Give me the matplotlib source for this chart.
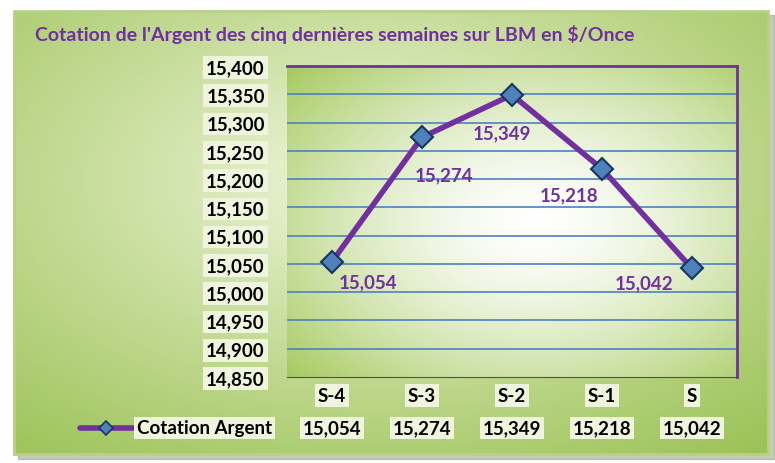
#!/usr/bin/env python3

# Silver price over the last five weeks, line chart with a data table row.

import matplotlib.pyplot as plt
import numpy as np

title = "Cotation de l'Argent des cinq dernières semaines sur LBM en $/Once"
weeks = ["S-4", "S-3", "S-2", "S-1", "S"]
prices = [15.054, 15.274, 15.349, 15.218, 15.042]
series_name = "Cotation Argent"
y_ticks = [14.85, 14.9, 14.95, 15.0, 15.05, 15.1, 15.15, 15.2, 15.25, 15.3, 15.35, 15.4]

PURPLE = "#7030a0"
FONT = ["Lato", "DejaVu Sans"]
W, H = 775, 464


def fmt(v):
    return f"{v:.3f}".replace(".", ",")


def radial(w, h, cx, cy, inner, outer, power=1.2):
    yy, xx = np.mgrid[0:h, 0:w]
    d = np.sqrt(((xx - cx) / w) ** 2 + ((yy - cy) / h) ** 2)
    d = np.clip(d / d.max(), 0, 1) ** power
    inner = np.array(inner) / 255
    outer = np.array(outer) / 255
    return inner + (outer - inner) * d[..., None]


fig = plt.figure(figsize=(W / 100, H / 100), dpi=100)

# background frame
bg = fig.add_axes([0, 0, 1, 1])
bg.set_xlim(0, W)
bg.set_ylim(H, 0)
bg.axis("off")
bg.add_patch(plt.Rectangle((18, 16), 756, 444, color="#8a9a70", alpha=0.5, zorder=0))
img = radial(200, 120, 95, 45, (244, 249, 228), (155, 194, 85), 0.9)
bg.imshow(img, extent=(14, 768, 455, 12), aspect="auto", zorder=1)
bg.add_patch(plt.Rectangle((14, 12), 754, 443, fill=False, ec="#b8d08a", lw=2, zorder=2))

bg.text(35, 35, title, color=PURPLE, fontsize=14, fontweight="bold",
        family=FONT, va="center", ha="left", zorder=3)

# plot area
x0, x1, ytop, ybot = 287, 737, 67, 378
ax = fig.add_axes([x0 / W, 1 - ybot / H, (x1 - x0) / W, (ybot - ytop) / H])
ax.set_zorder(2)
pimg = radial(200, 120, 110, 60, (255, 255, 255), (165, 202, 95), 1.5)
ax.imshow(pimg, extent=(-0.5, 4.5, 14.85, 15.4), aspect="auto", zorder=0)
ax.set_xlim(-0.5, 4.5)
ax.set_ylim(14.85, 15.4)

for t in y_ticks[1:-1]:
    ax.axhline(t, color="#4f81bd", lw=1.2, zorder=1)

x = np.arange(len(weeks))
ax.plot(x, prices, color=PURPLE, lw=4, zorder=3, solid_capstyle="round")
ax.plot(x, prices, ls="none", marker="D", ms=11, mfc="#4f81bd", mec="#17375e",
        mew=1.5, zorder=4)

offsets = [(36, -20), (22, -38), (-10, -38), (-33, -26), (-48, -14)]
for xi, v, (dx, dy) in zip(x, prices, offsets):
    ax.annotate(fmt(v), (xi, v), xytext=(dx, dy), textcoords="offset pixels",
                ha="center", va="center", color=PURPLE, fontsize=13.5,
                fontweight="bold", family=FONT, zorder=5)

ax.spines["left"].set_visible(False)
for side in ["top", "right", "bottom"]:
    ax.spines[side].set_color(PURPLE)
    ax.spines[side].set_linewidth(2)
ax.spines["bottom"].set_linewidth(0.8)

box = dict(boxstyle="square,pad=0.15", fc="#eef5dc", ec="none")
ax.set_yticks(y_ticks)
ax.set_yticklabels([fmt(t) for t in y_ticks], fontsize=13.5, fontweight="bold",
                   family=FONT)
for lab in ax.get_yticklabels():
    lab.set_bbox(box)
ax.set_xticks(x)
ax.set_xticklabels(weeks, fontsize=13.5, fontweight="bold", family=FONT)
for lab in ax.get_xticklabels():
    lab.set_bbox(box)
ax.tick_params(length=0, pad=16, axis="y")
ax.tick_params(length=0, pad=7, axis="x")

# data table row
tr = ax.get_xaxis_transform()
row_y = (ybot - 429) / (ybot - ytop)
for xi, v in zip(x, prices):
    ax.text(xi, row_y, fmt(v), transform=tr, ha="center", va="center",
            fontsize=13.5, fontweight="bold", family=FONT, bbox=box, clip_on=False)

bg.plot([80, 134], [429, 429], color=PURPLE, lw=4, zorder=3, solid_capstyle="round")
bg.plot([106], [429], marker="D", ms=7, mfc="#4f81bd", mec="#17375e", mew=1.2, zorder=4)
bg.text(137, 429, series_name, ha="left", va="center", fontsize=13.5,
        fontweight="bold", family=FONT, bbox=box, zorder=4)

fig.savefig("out.png", dpi=100)
